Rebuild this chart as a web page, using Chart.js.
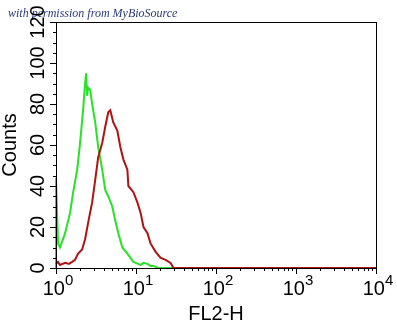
<!DOCTYPE html>
<html>
<head>
<meta charset="utf-8">
<script src="https://cdn.jsdelivr.net/npm/chart.js@4/dist/chart.umd.min.js"></script>
<style>
  body { margin: 0; background: #fff; }
  canvas { display: block; }
</style>
</head>
<body>
<canvas id="histChart" width="397" height="322"></canvas>
<script>
// ------------------ data ------------------
var greenX = [1, 1, 1.06, 1.12, 1.22, 1.3, 1.5, 1.64, 1.84, 2.0, 2.18, 2.31, 2.38, 2.45, 2.52, 2.67, 2.83, 3.09, 3.37, 3.78, 4.13, 4.5, 5.05, 5.51, 6.01, 6.75, 7.8, 9.28, 11.4, 12.4, 13.9, 15.2, 16.5, 19, 30];
var greenY = [0, 44, 12, 10, 14, 17, 27, 37, 48, 61, 77, 90, 95, 84, 88, 87, 80, 71, 59, 48, 38, 35, 30, 23, 17, 10, 7, 3, 1.5, 2.5, 2, 1, 1, 0, 0];

var redX = [1, 1.06, 1.12, 1.3, 1.45, 1.59, 1.73, 1.89, 2.12, 2.31, 2.52, 2.83, 3.09, 3.37, 3.78, 4.13, 4.5, 4.77, 5.2, 5.84, 6.37, 6.95, 7.8, 8.03, 9.28, 10.4, 11.4, 12.4, 13.9, 15.2, 17.5, 20.2, 23.4, 27, 29.5, 10000];
var redY = [2, 3, 1.5, 2.5, 2, 3, 4, 7, 9, 14, 22, 32, 43, 54, 61, 69, 76, 77, 71, 67, 59, 53, 48, 40, 37, 32, 27, 20, 17, 12, 8, 5, 4, 2.5, 0, 0];

var yTickLabels = [0, 20, 40, 60, 80, 100, 120];
var xTickExps = [0, 1, 2, 3, 4];

function toPoints(xs, ys) {
  return xs.map(function (x, i) { return { x: x, y: ys[i] }; });
}

// axes, ticks and labels drawn by hand (rotated y labels, superscript powers)
var axesPlugin = {
  id: 'axesPlugin',
  afterDraw: function (chart) {
    var ctx = chart.ctx;
    var a = chart.chartArea;
    var xs = chart.scales.x;
    var ys = chart.scales.y;
    ctx.save();

    // watermark
    ctx.fillStyle = '#2a3a78';
    ctx.font = 'italic 12px "Liberation Serif"';
    ctx.textAlign = 'left';
    ctx.textBaseline = 'alphabetic';
    ctx.fillText('with permission from MyBioSource', 8, 17);

    // frame
    ctx.strokeStyle = '#000';
    ctx.lineWidth = 1;
    ctx.strokeRect(Math.round(a.left) + 0.5, Math.round(a.top) + 0.5,
      Math.round(a.right - a.left), Math.round(a.bottom - a.top));

    // y ticks
    for (var v = 0; v <= 120; v += 5) {
      var py = Math.round(ys.getPixelForValue(v)) + 0.5;
      var len = (v % 20 === 0) ? 6 : 3;
      ctx.beginPath();
      ctx.moveTo(a.left - len, py);
      ctx.lineTo(a.left, py);
      ctx.stroke();
    }
    // x ticks
    for (var e = 0; e < 4; e++) {
      for (var m = 1; m <= 9; m++) {
        var px = Math.round(xs.getPixelForValue(m * Math.pow(10, e))) + 0.5;
        var l = (m === 1) ? 6 : 3;
        ctx.beginPath();
        ctx.moveTo(px, a.bottom);
        ctx.lineTo(px, a.bottom + l);
        ctx.stroke();
      }
    }
    var pEnd = Math.round(xs.getPixelForValue(10000)) + 0.5;
    ctx.beginPath();
    ctx.moveTo(pEnd, a.bottom);
    ctx.lineTo(pEnd, a.bottom + 6);
    ctx.stroke();

    ctx.fillStyle = '#000';
    // y labels, rotated
    ctx.font = '20px "Liberation Sans"';
    ctx.textAlign = 'center';
    yTickLabels.forEach(function (t) {
      var py = ys.getPixelForValue(t);
      ctx.save();
      ctx.translate(44, py);
      ctx.rotate(-Math.PI / 2);
      ctx.fillText(String(t), 0, 0);
      ctx.restore();
    });

    // x labels with superscript
    xTickExps.forEach(function (p) {
      var px = xs.getPixelForValue(Math.pow(10, p));
      ctx.font = '20px "Liberation Sans"';
      var w1 = ctx.measureText('10').width;
      ctx.font = '15px "Liberation Sans"';
      var w2 = ctx.measureText(String(p)).width;
      var x0 = px - (w1 + w2) / 2 + 2;
      ctx.textAlign = 'left';
      ctx.font = '20px "Liberation Sans"';
      ctx.fillText('10', x0, 295);
      ctx.font = '15px "Liberation Sans"';
      ctx.fillText(String(p), x0 + w1, 285);
    });

    // axis titles
    ctx.font = '20px "Liberation Sans"';
    ctx.textAlign = 'center';
    ctx.fillText('FL2-H', (a.left + a.right) / 2, 320);
    ctx.save();
    ctx.translate(16, (a.top + a.bottom) / 2);
    ctx.rotate(-Math.PI / 2);
    ctx.fillText('Counts', 0, 0);
    ctx.restore();

    ctx.restore();
  }
};

var ctx = document.getElementById('histChart').getContext('2d');
var histChart = new Chart(ctx, {
  type: 'scatter',
  data: {
    datasets: [{
      label: 'red',
      data: toPoints(redX, redY),
      showLine: true,
      borderColor: 'rgb(175, 20, 20)',
      borderWidth: 2,
      pointRadius: 0,
      tension: 0,
      clip: 4
    }, {
      label: 'green',
      data: toPoints(greenX, greenY),
      showLine: true,
      borderColor: 'rgb(40, 225, 40)',
      borderWidth: 2,
      pointRadius: 0,
      tension: 0,
      clip: 4
    }]
  },
  options: {
    responsive: false,
    animation: false,
    layout: { padding: { left: 56, top: 22, right: 21, bottom: 54 } },
    scales: {
      x: { type: 'logarithmic', min: 1, max: 10000, display: false },
      y: { min: 0, max: 120, display: false }
    },
    plugins: {
      legend: { display: false },
      tooltip: { enabled: false }
    }
  },
  plugins: [axesPlugin]
});
</script>
</body>
</html>
